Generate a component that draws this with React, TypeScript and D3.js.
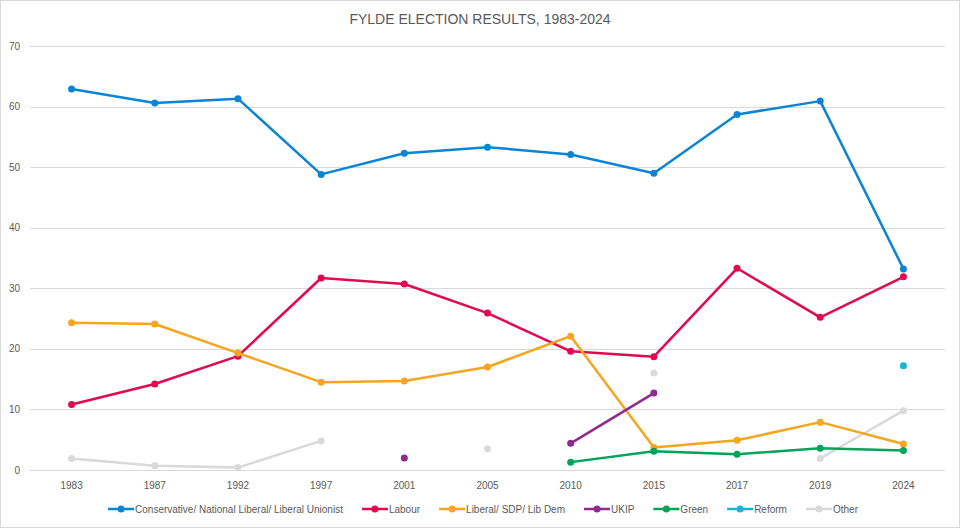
import { useEffect, useRef } from "react";
import * as d3 from "d3";

// Fylde constituency vote share (%)
const years = ["1983", "1987", "1992", "1997", "2001", "2005", "2010", "2015", "2017", "2019", "2024"];
const conservative = [62.9, 60.6, 61.3, 48.8, 52.3, 53.3, 52.1, 49.0, 58.7, 60.9, 33.2];
const labour = [10.8, 14.2, 18.8, 31.7, 30.7, 25.9, 19.6, 18.7, 33.3, 25.2, 31.9];
const libDem = [24.3, 24.1, 19.3, 14.5, 14.7, 17.0, 22.1, 3.7, 4.9, 7.9, 4.3];
const ukip = [null, null, null, null, 2.0, null, 4.4, 12.7, null, null, null];
const green = [null, null, null, null, null, null, 1.3, 3.1, 2.6, 3.6, 3.2];
const reform = [null, null, null, null, null, null, null, null, null, null, 17.2];
const other = [1.9, 0.7, 0.4, 4.8, null, 3.5, null, 16.0, null, 1.9, 9.8];
const yTicks = [0, 10, 20, 30, 40, 50, 60, 70];

const seriesNames = [
  "Conservative/ National Liberal/ Liberal Unionist",
  "Labour",
  "Liberal/ SDP/ Lib  Dem",
  "UKIP",
  "Green",
  "Reform",
  "Other",
];
const seriesValues = [conservative, labour, libDem, ukip, green, reform, other];
const colors = ["#0b84d6", "#e3094f", "#f7a51e", "#8f2a8f", "#00a35a", "#17b5d0", "#d9d9d9"];

const W = 960;
const H = 528;
const margin = { top: 46, right: 15, bottom: 58, left: 30 };

export default function App() {
  const ref = useRef<SVGSVGElement>(null);

  useEffect(() => {
    const svg = d3.select(ref.current);
    svg.selectAll("*").remove();

    const x = d3
      .scalePoint<string>()
      .domain(years)
      .range([margin.left, W - margin.right])
      .padding(0.5);
    const y = d3
      .scaleLinear()
      .domain([0, 70])
      .range([H - margin.bottom, margin.top]);

    // outer border
    svg
      .append("rect")
      .attr("x", 0.5)
      .attr("y", 0.5)
      .attr("width", W - 1)
      .attr("height", H - 1)
      .attr("fill", "#fff")
      .attr("stroke", "#d9d9d9");

    // title
    svg
      .append("text")
      .attr("x", W / 2)
      .attr("y", 24)
      .attr("text-anchor", "middle")
      .style("font-family", "'Liberation Sans', Arial, sans-serif")
      .style("font-size", "14px")
      .style("fill", "#595959")
      .text("FYLDE ELECTION RESULTS, 1983-2024");

    // gridlines
    svg
      .append("g")
      .selectAll("line")
      .data(yTicks)
      .join("line")
      .attr("x1", margin.left)
      .attr("x2", W - margin.right)
      .attr("y1", (d) => Math.round(y(d)) + 0.5)
      .attr("y2", (d) => Math.round(y(d)) + 0.5)
      .attr("stroke", "#d9d9d9")
      .attr("stroke-width", 1);

    // y tick labels
    svg
      .append("g")
      .selectAll("text")
      .data(yTicks)
      .join("text")
      .attr("x", 20)
      .attr("y", (d) => y(d))
      .attr("dy", "0.35em")
      .attr("text-anchor", "end")
      .style("font-family", "'Liberation Sans', Arial, sans-serif")
      .style("font-size", "10px")
      .style("fill", "#595959")
      .text((d) => d);

    // x tick labels
    svg
      .append("g")
      .selectAll("text")
      .data(years)
      .join("text")
      .attr("x", (d) => x(d)!)
      .attr("y", H - margin.bottom + 19)
      .attr("text-anchor", "middle")
      .style("font-family", "'Liberation Sans', Arial, sans-serif")
      .style("font-size", "10px")
      .style("fill", "#595959")
      .text((d) => d);

    const line = d3
      .line<number | null>()
      .defined((d) => d !== null)
      .x((_, i) => x(years[i])!)
      .y((d) => y(d as number));

    // draw "Other" first so it sits underneath
    const order = [6, 0, 1, 2, 3, 4, 5];
    order.forEach((s) => {
      const vals = seriesValues[s];
      const g = svg.append("g");
      g.append("path")
        .datum(vals)
        .attr("d", line)
        .attr("fill", "none")
        .attr("stroke", colors[s])
        .attr("stroke-width", 2.5)
        .attr("stroke-linejoin", "round");
      g.selectAll("circle")
        .data(vals.map((v, i) => ({ v, i })).filter((d) => d.v !== null))
        .join("circle")
        .attr("cx", (d) => x(years[d.i])!)
        .attr("cy", (d) => y(d.v as number))
        .attr("r", 3.5)
        .attr("fill", colors[s]);
    });

    // legend
    const legend = svg.append("g");
    let lx = 0;
    seriesNames.forEach((name, i) => {
      const item = legend.append("g").attr("transform", `translate(${lx},0)`);
      item
        .append("line")
        .attr("x1", 0)
        .attr("x2", 26)
        .attr("stroke", colors[i])
        .attr("stroke-width", 2.5);
      item.append("circle").attr("cx", 13).attr("r", 3.5).attr("fill", colors[i]);
      const t = item
        .append("text")
        .attr("x", 27)
        .attr("dy", "0.35em")
        .style("font-family", "'Liberation Sans Narrow', 'Liberation Sans', Arial, sans-serif")
        .style("font-size", "10px")
        .style("fill", "#595959")
        .text(name);
      const w = (t.node() as SVGTextElement).getComputedTextLength();
      lx += 27 + w + 19;
    });
    const total = lx - 19;
    legend.attr("transform", `translate(${483 - total / 2},${H - 19})`);
  }, []);

  return (
    <svg
      ref={ref}
      width={W}
      height={H}
      style={{ position: "absolute", left: 0, top: 0, background: "#fff" }}
    />
  );
}
